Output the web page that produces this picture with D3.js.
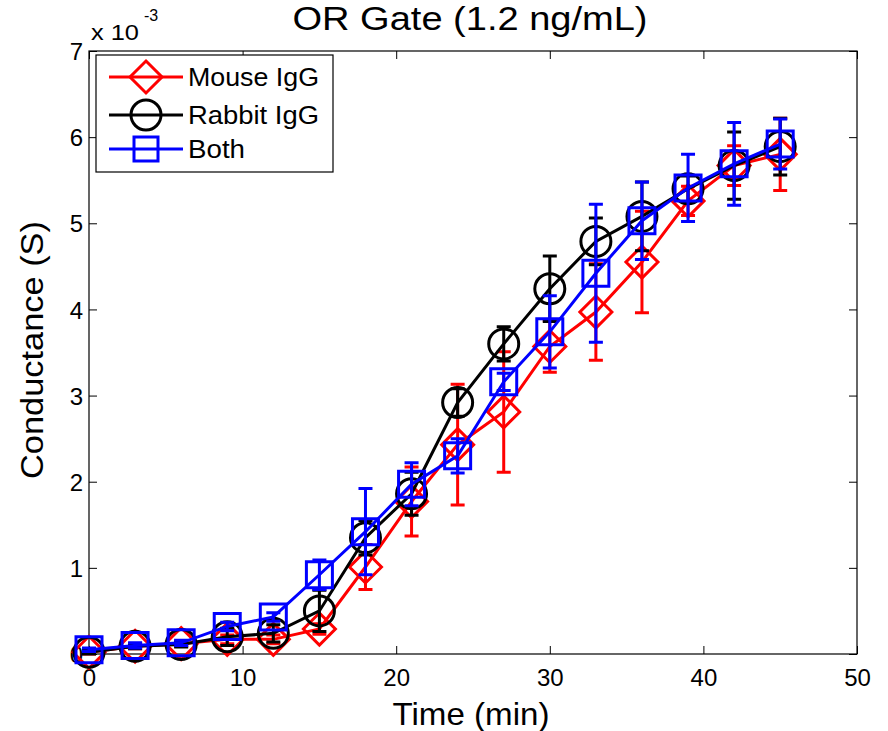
<!DOCTYPE html>
<html><head><meta charset="utf-8">
<script src="https://cdn.jsdelivr.net/npm/d3@7"></script>
<style>body{margin:0;background:#fff}svg{font-family:"Liberation Sans",Arial,sans-serif}</style>
</head><body><svg id="c" width="888" height="731"></svg>
<script>
const times = [0,3,6,9,12,15,18,21,24,27,30,33,36,39,42,45];
const mouseIgG  = [0.02,0.09,0.12,0.17,0.17,0.29,1.01,1.77,2.43,2.81,3.57,3.97,4.55,5.26,5.67,5.80];
const mouseErr  = [0.02,0.03,0.03,0.05,0.05,0.06,0.26,0.40,0.70,0.70,0.30,0.56,0.59,0.17,0.23,0.42];
const rabbitIgG = [0.02,0.09,0.11,0.20,0.24,0.50,1.35,1.86,2.92,3.60,4.24,4.79,5.08,5.40,5.67,5.89];
const rabbitErr = [0.02,0.03,0.03,0.10,0.10,0.24,0.20,0.25,0.16,0.20,0.38,0.27,0.40,0.15,0.39,0.33];
const bothVals  = [0.05,0.10,0.13,0.32,0.43,0.92,1.42,1.97,2.30,3.16,3.74,4.42,5.03,5.41,5.69,5.92];
const bothErr   = [0.02,0.03,0.03,0.05,0.05,0.17,0.50,0.25,0.20,0.10,0.42,0.80,0.45,0.39,0.48,0.29];
const xTicks = [0,10,20,30,40,50];
const yTicks = [0,1,2,3,4,5,6,7];
const seriesNames = ["Mouse IgG","Rabbit IgG","Both"];
const seriesColors = ["#ff0000","#000000","#0000ff"];
const seriesMarkers = ["diamond","circle","square"];

const svg = d3.select("#c");
const L=89,R=857,T=51,B=654;
const x = d3.scaleLinear().domain([0,50]).range([L,R]);
const y = d3.scaleLinear().domain([0,7]).range([B,T]);

svg.append("rect").attr("x",L).attr("y",T).attr("width",R-L).attr("height",B-T)
  .attr("fill","#fff").attr("stroke","#000").attr("stroke-width",1.2);

const tl = 8;
const gx = svg.append("g").attr("transform",`translate(0,${B})`)
  .call(d3.axisBottom(x).tickValues(xTicks).tickSize(-tl).tickPadding(15).tickFormat(d3.format("d")));
const gxt = svg.append("g").attr("transform",`translate(0,${T})`)
  .call(d3.axisTop(x).tickValues(xTicks).tickSize(-tl).tickFormat(""));
const gy = svg.append("g").attr("transform",`translate(${L},0)`)
  .call(d3.axisLeft(y).tickValues(yTicks).tickSize(-tl).tickPadding(6).tickFormat(d3.format("d")));
const gyr = svg.append("g").attr("transform",`translate(${R},0)`)
  .call(d3.axisRight(y).tickValues(yTicks).tickSize(-tl).tickFormat(""));
[gx,gxt,gy,gyr].forEach(g=>{
  g.select(".domain").remove();
  g.selectAll("line").attr("stroke","#000");
  g.selectAll("text").attr("font-size",24).attr("fill","#000").attr("font-family","Liberation Sans, Arial, sans-serif");
});
gy.selectAll("text").attr("dy","0.36em");

const sym = {
  diamond: r => `M0,${-r}L${r},0L0,${r}L${-r},0Z`,
  square: r => `M${-r},${-r}H${r}V${r}H${-r}Z`,
  circle: r => `M${r},0A${r},${r} 0 1,1 ${-r},0A${r},${r} 0 1,1 ${r},0Z`
};
const msz = {diamond:16, square:13, circle:15};

const allVals=[mouseIgG,rabbitIgG,bothVals], allErr=[mouseErr,rabbitErr,bothErr];
const line = d3.line().x(d=>x(d[0])).y(d=>y(d[1]));
allVals.forEach((vals,si)=>{
  const col=seriesColors[si], m=seriesMarkers[si];
  const g=svg.append("g");
  const pts = times.map((t,i)=>[t,vals[i],allErr[si][i]]);
  const cw=7;
  pts.forEach(p=>{
    const x0=x(p[0]), y1=y(p[1]+p[2]), y2=y(p[1]-p[2]);
    g.append("path").attr("d",`M${x0},${y1}V${y2}M${x0-cw},${y1}H${x0+cw}M${x0-cw},${y2}H${x0+cw}`)
      .attr("stroke",col).attr("stroke-width",3).attr("fill","none");
  });
  g.append("path").datum(pts).attr("d",line).attr("stroke",col).attr("stroke-width",3).attr("fill","none");
  g.selectAll(".m").data(pts).join("path").attr("class","m")
    .attr("transform",p=>`translate(${x(p[0])},${y(p[1])})`)
    .attr("d",sym[m](msz[m])).attr("fill","none").attr("stroke",col).attr("stroke-width",3);
});

// legend
const lg = svg.append("g");
lg.append("rect").attr("x",96).attr("y",55).attr("width",237).attr("height",117)
  .attr("fill","#fff").attr("stroke","#000").attr("stroke-width",1.2);
const ly=[77,115,149];
const lw=[131,131,57];
seriesNames.forEach((n,i)=>{
  const col=seriesColors[i], m=seriesMarkers[i];
  lg.append("line").attr("x1",109).attr("x2",183).attr("y1",ly[i]).attr("y2",ly[i]).attr("stroke",col).attr("stroke-width",3);
  lg.append("path").attr("transform",`translate(146,${ly[i]})`).attr("d",sym[m](m==="square"?12:msz[m]))
    .attr("fill","none").attr("stroke",col).attr("stroke-width",3);
  lg.append("text").attr("x",188).attr("y",ly[i]).attr("dy","0.36em").attr("font-size",25)
    .attr("textLength",lw[i]).attr("lengthAdjust","spacingAndGlyphs").text(n);
});

// title & labels
svg.append("text").attr("x",470).attr("y",30).attr("text-anchor","middle").attr("font-size",33)
  .attr("textLength",355).attr("lengthAdjust","spacingAndGlyphs").text("OR Gate (1.2 ng/mL)");
svg.append("text").attr("x",91).attr("y",40).attr("font-size",22)
  .attr("textLength",48).attr("lengthAdjust","spacingAndGlyphs").text("x 10");
svg.append("text").attr("x",144).attr("y",21).attr("font-size",16).text("-3");
svg.append("text").attr("x",471).attr("y",725).attr("text-anchor","middle").attr("font-size",32)
  .attr("textLength",157).attr("lengthAdjust","spacingAndGlyphs").text("Time (min)");
svg.append("text").attr("transform","translate(43,350) rotate(-90)").attr("text-anchor","middle").attr("font-size",31)
  .attr("textLength",258).attr("lengthAdjust","spacingAndGlyphs").text("Conductance (S)");
</script></body></html>
